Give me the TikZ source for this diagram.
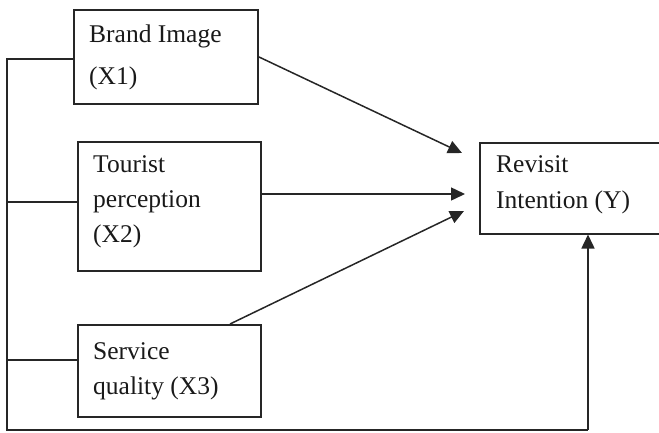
\documentclass[tikz,border=0pt]{standalone}
\usepackage{fontspec}
\setmainfont{Liberation Serif}
\usetikzlibrary{arrows.meta}
\begin{document}
\begin{tikzpicture}[x=1pt,y=-1pt,
  box/.style={draw=black!85, line width=1.5pt, rectangle, inner sep=0pt, anchor=north west},
  lbl/.style={anchor=base west, inner sep=0pt, font=\fontsize{25.5}{30}\selectfont, text=black!90},
  wire/.style={draw=black!85, line width=1.5pt},
  arr/.style={wire, -{Triangle[length=14pt,width=13pt]}}]
\useasboundingbox (0,0) rectangle (659,432);
\clip (0,0) rectangle (659,432);
% boxes
\node[box, minimum width=184pt, minimum height=94pt] (x1) at (73,9) {};
\node[box, minimum width=183pt, minimum height=129pt] (x2) at (77,141) {};
\node[box, minimum width=183pt, minimum height=92pt] (x3) at (77,324) {};
\node[box, minimum width=200pt, minimum height=91pt] (y) at (479,142) {};
% texts
\node[lbl] (t1a) at (89,42) {Brand Image};
\node[lbl] (t1b) at (89,84) {(X1)};
\node[lbl] (t2a) at (93,172) {Tourist};
\node[lbl] (t2b) at (93,207) {perception};
\node[lbl] (t2c) at (93,242) {(X2)};
\node[lbl] (t3a) at (93,359) {Service};
\node[lbl] (t3b) at (93,394) {quality (X3)};
\node[lbl] (t4a) at (496,172) {Revisit};
\node[lbl] (t4b) at (496,208) {Intention (Y)};
% coordinates
\coordinate (tip1) at (462,153);
\coordinate (tip2) at (465,194);
\coordinate (tip3) at (464,211);
\coordinate (s3) at (230,324);
\coordinate (l1) at (7,59);
\coordinate (l2) at (7,202);
\coordinate (l3) at (7,360);
\coordinate (corner) at (7,430);
\coordinate (c4) at (588,430);
% connectors
\draw[arr] (x1.east) -- (tip1);
\draw[arr] (x2.east |- tip2) -- (tip2);
\draw[arr] (s3) -- (tip3);
\draw[wire] (x1.west |- l1) -- (l1) -- (corner) -- (c4);
\draw[arr] (c4) -- (c4 |- y.south);
\draw[wire] (x2.west |- l2) -- (l2);
\draw[wire] (x3.west |- l3) -- (l3);
\end{tikzpicture}
\end{document}
